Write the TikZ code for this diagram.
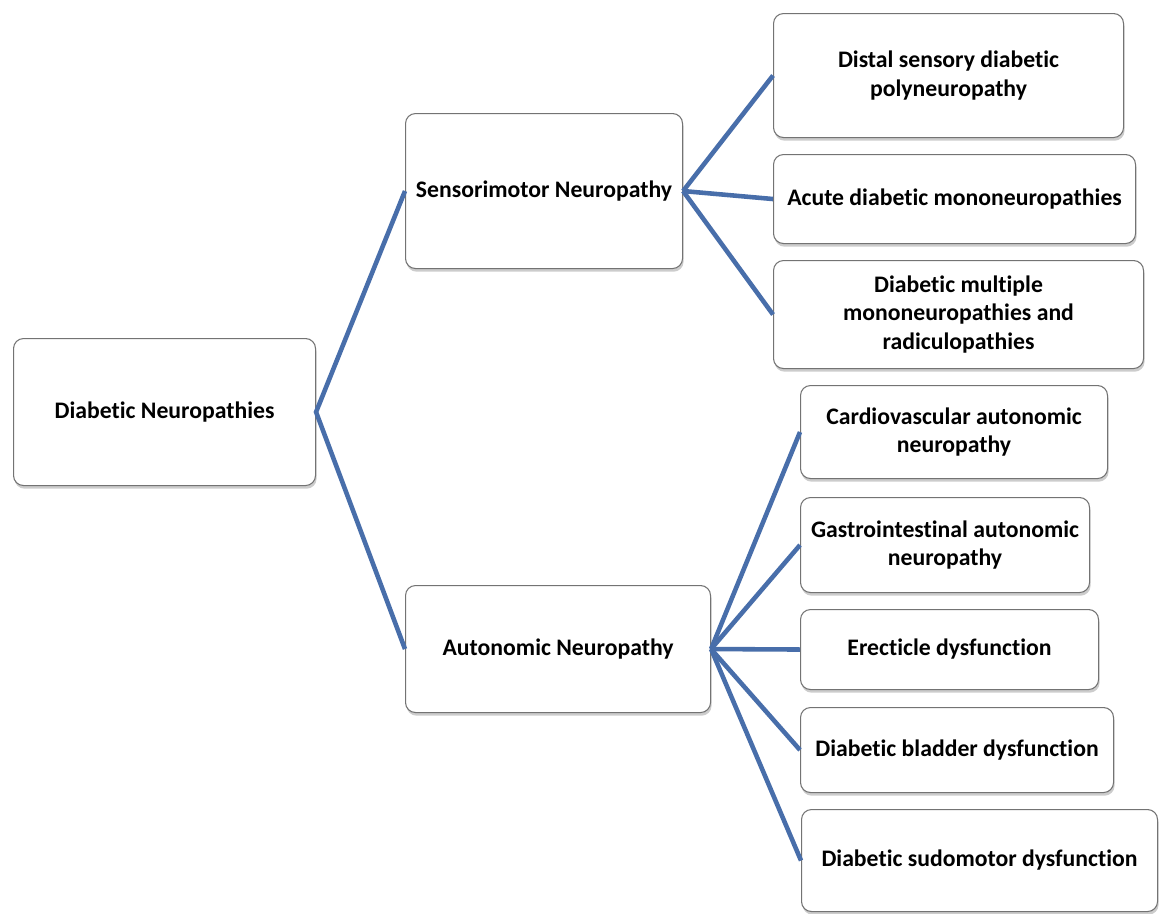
\documentclass[tikz,border=0pt]{standalone}
\usepackage{fontspec}
\setmainfont{Carlito}[Ligatures={NoCommon}]
\usepackage{tikz}
\usetikzlibrary{shapes,shadows}

\tikzset{
  nbox/.style={shape=rectangle, rounded corners=0.2cm, draw=black!55, line width=0.6pt, fill=white, anchor=north west, align=center, font=\fontsize{13.5pt}{16pt}\selectfont\bfseries, drop shadow={shadow xshift=0.6pt, shadow yshift=-1.8pt, opacity=0.4}, inner sep=0pt},
  link/.style={draw={rgb,255:red,72;green,110;blue,170}, line width=2.6pt}
}

\begin{document}
\begin{tikzpicture}[x=0.02cm, y=-0.02cm]

\fill[white] (0,0) rectangle (1159,913);
\useasboundingbox (0,0) rectangle (1159,913);

\node[name=dn, nbox, minimum width=302*0.02cm, minimum height=147*0.02cm] at (13,338) {Diabetic Neuropathies};
\node[name=smn, nbox, minimum width=277*0.02cm, minimum height=155*0.02cm] at (405,113) {Sensorimotor Neuropathy};
\node[name=an, nbox, minimum width=305*0.02cm, minimum height=127*0.02cm] at (405,585) {Autonomic Neuropathy};

\node[name=dsdp, nbox, minimum width=350*0.02cm, minimum height=124*0.02cm] at (773,13) {Distal sensory diabetic\\polyneuropathy};
\node[name=adm, nbox, minimum width=362*0.02cm, minimum height=89*0.02cm] at (773,154) {Acute diabetic mononeuropathies};
\node[name=dmmr, nbox, minimum width=370*0.02cm, minimum height=108*0.02cm] at (773,260) {Diabetic multiple\\mononeuropathies and\\radiculopathies};

\node[name=can, nbox, minimum width=307*0.02cm, minimum height=93*0.02cm] at (800,385) {Cardiovascular autonomic\\neuropathy};
\node[name=gian, nbox, minimum width=289*0.02cm, minimum height=95*0.02cm] at (800,497) {Gastrointestinal autonomic\\neuropathy};
\node[name=ed, nbox, minimum width=298*0.02cm, minimum height=80*0.02cm] at (800,609) {Erecticle dysfunction};
\node[name=dbd, nbox, minimum width=313*0.02cm, minimum height=85*0.02cm] at (800,707) {Diabetic bladder dysfunction};
\node[name=dsd, nbox, minimum width=356*0.02cm, minimum height=102*0.02cm] at (801,809) {Diabetic sudomotor dysfunction};

\draw[link] (smn.west) -- (dn.east) -- (an.west);
\foreach \k in {dsdp,adm,dmmr} \draw[link] (smn.east) -- (\k.west);
\foreach \k in {can,gian,ed,dbd,dsd} \draw[link] (an.east) -- (\k.west);

\end{tikzpicture}
\end{document}
